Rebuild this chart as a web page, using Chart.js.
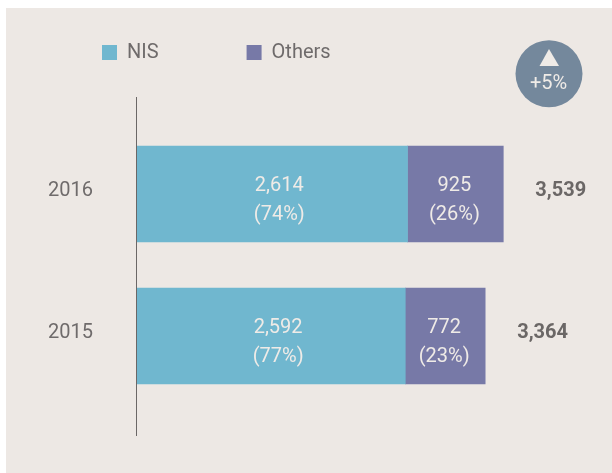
<!DOCTYPE html>
<html>
<head>
<meta charset="utf-8">
<style>
html,body{margin:0;padding:0;background:#fff;width:612px;height:473px;overflow:hidden}
#panel{position:absolute;left:6px;top:8px;width:606px;height:465px;background:#ede8e4}
#wrap{position:absolute;left:0;top:0;width:612px;height:473px}
</style>
<script src="https://cdn.jsdelivr.net/npm/chart.js@4"></script>
</head>
<body>
<div id="panel"></div>
<div id="wrap"><canvas id="c" width="612" height="473"></canvas></div>
<script>
const years = ['2016', '2015'];
const nisValues = [2614, 2592];
const othersValues = [925, 772];
const nisShares = ['(74%)', '(77%)'];
const othersShares = ['(26%)', '(23%)'];
const totals = [3539, 3364];
const changeLabel = '+5%';

const FONT = 'Roboto, "Liberation Sans", sans-serif';
const fmt = v => v.toLocaleString('en-US');
const segmentLabelShift = [7, -1];

const decorations = {
  id: 'decorations',
  beforeLayout(chart) {
    // the legend floats above the plot and takes no layout space
    const legend = chart.legend;
    if (!legend._floating) {
      const fit = legend.fit;
      legend.fit = function () { fit.call(this); this.height = 0; };
      legend._floating = true;
    }
  },
  afterLayout(chart) {
    chart.legend.left = 14;
    chart.legend.right = 600;
    chart.legend.top = -45.5;
  },
  afterDatasetsDraw(chart) {
    const ctx = chart.ctx;
    const a = chart.chartArea;
    ctx.save();
    // axis line, extending past the outer bands
    ctx.strokeStyle = '#6b6766';
    ctx.lineWidth = 1;
    ctx.beginPath();
    ctx.moveTo(a.left - 0.5, a.top - 26);
    ctx.lineTo(a.left - 0.5, a.bottom + 29);
    ctx.stroke();

    // segment labels
    ctx.textAlign = 'center';
    ctx.textBaseline = 'middle';
    ctx.font = '20px ' + FONT;
    ctx.fillStyle = '#efebe7';
    const shares = [nisShares, othersShares];
    chart.data.datasets.forEach((ds, d) => {
      chart.getDatasetMeta(d).data.forEach((bar, i) => {
        const cx = (bar.base + bar.x) / 2 + segmentLabelShift[d];
        ctx.fillText(fmt(ds.data[i]), cx, bar.y - 8.5);
        ctx.fillText(shares[d][i], cx, bar.y + 21);
      });
    });

    // totals
    ctx.textAlign = 'left';
    ctx.font = 'bold 20px ' + FONT;
    ctx.fillStyle = '#6b6766';
    chart.getDatasetMeta(1).data.forEach((bar, i) => {
      ctx.fillText(fmt(totals[i]), bar.x + 32, bar.y - 3);
    });

    // change badge
    ctx.fillStyle = '#74889c';
    ctx.beginPath();
    ctx.arc(549, 73.7, 33.5, 0, Math.PI * 2);
    ctx.fill();
    ctx.fillStyle = '#efebe7';
    ctx.beginPath();
    ctx.moveTo(549, 49);
    ctx.lineTo(559, 66);
    ctx.lineTo(539.5, 66);
    ctx.closePath();
    ctx.fill();
    ctx.textAlign = 'center';
    ctx.font = '20px ' + FONT;
    ctx.fillText(changeLabel, 548.5, 84);
    ctx.restore();
  }
};

new Chart(document.getElementById('c'), {
  type: 'bar',
  data: {
    labels: years,
    datasets: [
      { label: 'NIS', data: nisValues, backgroundColor: '#70b7cf' },
      { label: 'Others', data: othersValues, backgroundColor: '#7779a7' }
    ]
  },
  options: {
    indexAxis: 'y',
    responsive: false,
    animation: false,
    layout: { padding: { left: 0, right: 61, top: 123, bottom: 66 } },
    datasets: { bar: { barThickness: 96, borderWidth: 0 } },
    scales: {
      x: { stacked: true, display: false, min: 0, max: 4000 },
      y: {
        stacked: true,
        grid: { display: false, drawTicks: false },
        border: { display: false },
        afterFit(scale) { scale.width = 137; },
        ticks: { color: '#6f6b6b', font: { family: FONT, size: 20 }, padding: 44, labelOffset: -3 }
      }
    },
    plugins: {
      tooltip: { enabled: false },
      legend: {
        position: 'top',
        align: 'start',
        labels: {
          boxWidth: 15, boxHeight: 15, padding: 88,
          color: '#6f6b6b',
          font: { family: FONT, size: 20 }
        }
      }
    }
  },
  plugins: [decorations]
});
</script>
</body>
</html>
